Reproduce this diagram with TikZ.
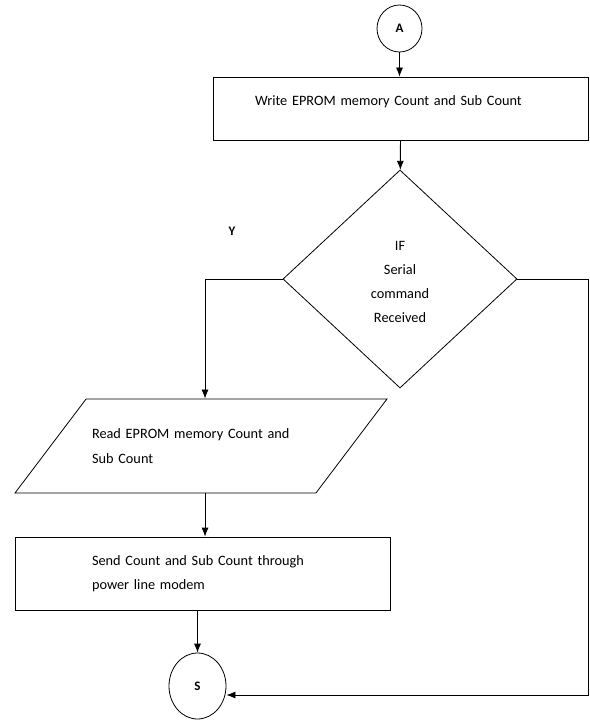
\documentclass[tikz,border=0pt]{standalone}
\usepackage{fontspec}
\setmainfont{Carlito}
\usetikzlibrary{shapes.geometric, positioning, arrows.meta}

\begin{document}
\begin{tikzpicture}[x=1pt,y=-1pt,on grid,auto,line width=0.8pt,
    >={Latex[length=9pt,width=7pt]},
    conn/.style={draw, ellipse, inner sep=0pt, font=\fontsize{13}{15}\selectfont\bfseries},
    proc/.style={draw, rectangle, minimum width=375pt, inner sep=0pt, align=left,
                 font=\fontsize{14.3}{23.5}\selectfont},
    dec/.style={draw, diamond, minimum width=234pt, minimum height=218pt, inner sep=0pt,
                align=center, font=\fontsize{14.3}{24.3}\selectfont},
    io/.style={draw, trapezium, trapezium left angle=51.4, trapezium right angle=128.6,
               trapezium stretches body, minimum width=372pt, minimum height=94pt,
               inner xsep=0pt, inner ysep=27pt, text width=218pt, align=left,
               font=\fontsize{14.3}{25}\selectfont}]
   \useasboundingbox (0,0) rectangle (589,722);
   \node[conn, minimum width=45pt, minimum height=47pt] (n_a) at (399.5,28.5) {A};
   \node[proc, minimum height=63pt, text width=291pt, text depth=15pt] (n_write) [below=80pt of n_a, xshift=1pt] {Write EPROM memory Count and Sub Count};
   \node[dec, text height=88pt] (n_if) [below=170.5pt of n_write, xshift=-0.5pt] {IF\\Serial\\command\\Received};
   \node[io] (n_read) [below left=167pt and 199pt of n_if] {Read EPROM memory Count and\\Sub Count};
   \node[proc, minimum height=73pt, text width=221pt] (n_send) [below=127.5pt of n_read, xshift=1.5pt] {Send Count and Sub Count through\\power line modem};
   \node[conn, minimum width=57pt, minimum height=66pt] (n_s) [below=112.5pt of n_send, xshift=-5pt] {S};
   \node[font=\fontsize{13}{15}\selectfont\bfseries] (n_y) at (232,231) {Y};
   \coordinate (n_corner) at (588,695);

    \path[->]
    (n_a)     edge (n_a |- n_write.north)
    (n_write) edge (n_if)
    ([xshift=4pt]n_read.south) edge ([xshift=4pt]n_read.south |- n_send.north)
    (n_send.south -| n_s) edge (n_s);
    \draw[->] (n_if.west) -| ([xshift=4pt]n_read.north);
    \draw[->] (n_if.east) -| (n_corner) -- (n_corner -| n_s.east);
\end{tikzpicture}
\end{document}
